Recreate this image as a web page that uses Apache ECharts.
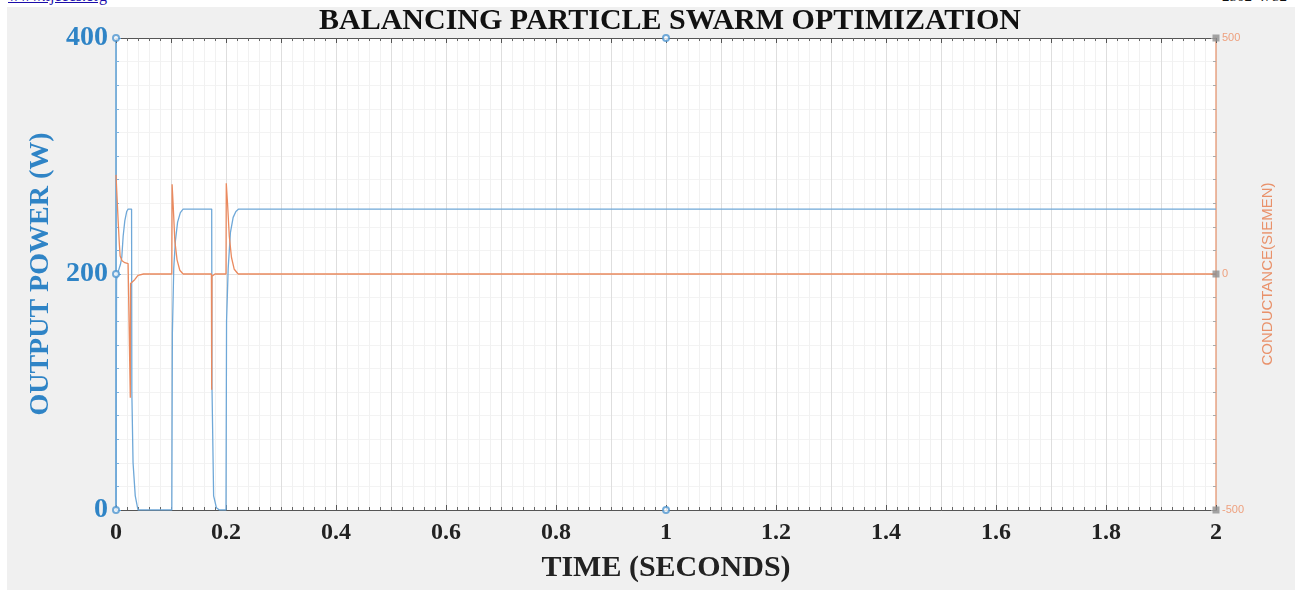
<!DOCTYPE html>
<html>
<head>
<meta charset="utf-8">
<script src="https://cdn.jsdelivr.net/npm/echarts@6/dist/echarts.min.js"></script>
<style>
html,body{margin:0;padding:0;background:#fff;width:1301px;height:590px;overflow:hidden;}
#bg{position:absolute;left:7px;top:7px;width:1288px;height:583px;background:#f0f0f0;}
#chart{position:absolute;left:0;top:0;width:1301px;height:590px;}
#lnk{position:absolute;left:8px;top:-13px;font:16px "Liberation Serif",serif;color:#1a0dab;text-decoration:underline;}
#issn{position:absolute;left:1222px;top:-12px;font:15px "Liberation Serif",serif;color:#111;}
</style>
</head>
<body>
<div id="bg"></div>
<div id="lnk">www.ijeecs.org</div>
<div id="issn">2502-4752</div>
<div id="chart"></div>
<script>
// ---- data ----
const titleText = 'BALANCING PARTICLE SWARM OPTIMIZATION';
const xTicks = [0, 0.2, 0.4, 0.6, 0.8, 1, 1.2, 1.4, 1.6, 1.8, 2];
// Output power (W) vs time (s)
const powerTime  = [0, 0.001, 0.004, 0.008, 0.0105, 0.013, 0.016, 0.0195, 0.022, 0.0283, 0.0288, 0.031, 0.035, 0.040,
                    0.1015, 0.1025, 0.105, 0.108, 0.112, 0.117, 0.122, 0.174, 0.1745, 0.1775, 0.1825, 0.188,
                    0.2, 0.201, 0.204, 0.208, 0.213, 0.218, 0.223, 2];
const powerValue = [0, 195, 202, 208, 214, 232, 245, 253, 255, 255, 100, 40, 12, 0,
                    0, 150, 205, 228, 244, 252, 255, 255, 105, 12, 2, 0,
                    0, 160, 205, 235, 248, 253, 255, 255];
// Conductance (siemen) vs time (s)
const condTime  = [0, 0.002, 0.004, 0.006, 0.0075, 0.011, 0.016, 0.022, 0.0255, 0.026, 0.0265, 0.034, 0.040, 0.050,
                   0.1015, 0.102, 0.104, 0.107, 0.111, 0.116, 0.122, 0.1735, 0.174, 0.1745, 0.180,
                   0.2, 0.2005, 0.203, 0.206, 0.210, 0.215, 0.222, 2];
const condValue = [210, 160, 110, 65, 38, 28, 24, 22, 20, -262, -20, -12, -3, 0,
                   0, 190, 145, 70, 30, 8, 0, 0, -245, -5, 0,
                   0, 192, 145, 80, 35, 10, 0, 0];
// annotation markers seen on the axes
const leftMarks  = [[0, 400], [0, 200], [0, 0], [1, 400], [1, 0]];
const rightMarks = [[2, 500], [2, 0], [2, -500]];

const powerData = powerTime.map((t, i) => [t, powerValue[i]]);
const condData  = condTime.map((t, i) => [t, condValue[i]]);

const serif = '"Liberation Serif","Times New Roman",serif';
const chart = echarts.init(document.getElementById('chart'), null, {renderer: 'canvas'});
chart.setOption({
  backgroundColor: 'transparent',
  animation: false,
  title: {
    text: titleText, left: 665, textAlign: 'center', top: 1,
    textStyle: {fontFamily: serif, fontWeight: 'bold', fontSize: 30, color: '#111'}
  },
  grid: {left: 116, right: 85, top: 38, bottom: 80, show: true, backgroundColor: '#fff', borderWidth: 0},
  xAxis: [{
    type: 'value', min: 0, max: 2, interval: 0.2, position: 'bottom',
    name: 'TIME (SECONDS)', nameLocation: 'middle', nameGap: 43,
    nameTextStyle: {fontFamily: serif, fontWeight: 'bold', fontSize: 30, color: '#222'},
    axisLine: {onZero: false, lineStyle: {color: '#555', width: 1}},
    axisTick: {inside: true, length: 5, lineStyle: {color: '#555'}},
    minorTick: {show: true, splitNumber: 10, length: 3, lineStyle: {color: '#666'}},
    axisLabel: {fontFamily: serif, fontWeight: 'bold', fontSize: 24, color: '#222', margin: 11,
      formatter: v => xTicks.indexOf(Math.round(v * 10) / 10) >= 0 ? String(Math.round(v * 10) / 10) : ''},
    splitLine: {show: false},
    minorSplitLine: {show: true, lineStyle: {color: '#f1f1f1', width: 1}}
  }, {
    type: 'value', min: 0, max: 2, interval: 0.1, position: 'top',
    axisLine: {show: true, onZero: false, lineStyle: {color: '#555', width: 1}},
    axisTick: {inside: true, length: 5, lineStyle: {color: '#555'}},
    minorTick: {show: true, splitNumber: 5, length: 3, lineStyle: {color: '#666'}},
    axisLabel: {show: false},
    splitLine: {show: true, lineStyle: {color: '#dedede', width: 1}}
  }],
  yAxis: [{
    type: 'value', min: 0, max: 400, interval: 200, position: 'left',
    name: 'OUTPUT POWER (W)', nameLocation: 'middle', nameGap: 59,
    nameTextStyle: {fontFamily: serif, fontWeight: 'bold', fontSize: 28, color: '#2f84c6'},
    axisLine: {show: true, onZero: false, lineStyle: {color: '#5a9fd6', width: 1.5}},
    axisTick: {inside: true, length: 5, lineStyle: {color: '#5a9fd6'}},
    minorTick: {show: true, splitNumber: 10, length: 3, lineStyle: {color: '#7fb2dd'}},
    axisLabel: {fontFamily: serif, fontWeight: 'bold', fontSize: 28, color: '#2f84c6', margin: 8},
    splitLine: {show: true, lineStyle: {color: '#e2e2e2'}},
    minorSplitLine: {show: true, lineStyle: {color: '#f3f3f3'}}
  }, {
    type: 'value', min: -500, max: 500, interval: 500, position: 'right',
    name: 'CONDUCTANCE(SIEMEN)', nameLocation: 'middle', nameGap: 44,
    nameTextStyle: {fontFamily: '"Liberation Sans",Arial,sans-serif', fontSize: 15, color: '#e9916a'},
    axisLine: {show: true, onZero: false, lineStyle: {color: '#eaa484', width: 1.5}},
    axisTick: {inside: true, length: 5, lineStyle: {color: '#999'}},
    minorTick: {show: true, splitNumber: 10, length: 3, lineStyle: {color: '#aaa'}},
    axisLabel: {fontFamily: '"Liberation Sans",Arial,sans-serif', fontSize: 11, color: '#eea07e', margin: 6},
    splitLine: {show: false}
  }],
  series: [{
    type: 'line', name: 'power', xAxisIndex: 0, yAxisIndex: 0, data: powerData,
    showSymbol: false, lineStyle: {color: '#6fa8d8', width: 1.3}, z: 3
  }, {
    type: 'line', name: 'conductance', xAxisIndex: 0, yAxisIndex: 1, data: condData,
    showSymbol: false, lineStyle: {color: '#ea8a5f', width: 1.3}, z: 4
  }, {
    type: 'scatter', xAxisIndex: 0, yAxisIndex: 0, data: leftMarks,
    symbol: 'emptyCircle', symbolSize: 6, itemStyle: {color: '#4d95d0', borderWidth: 1}, z: 5
  }, {
    type: 'scatter', xAxisIndex: 0, yAxisIndex: 1, data: rightMarks,
    symbol: 'rect', symbolSize: 7, itemStyle: {color: '#8f8f8f'}, z: 5
  }]
});
</script>
</body>
</html>
